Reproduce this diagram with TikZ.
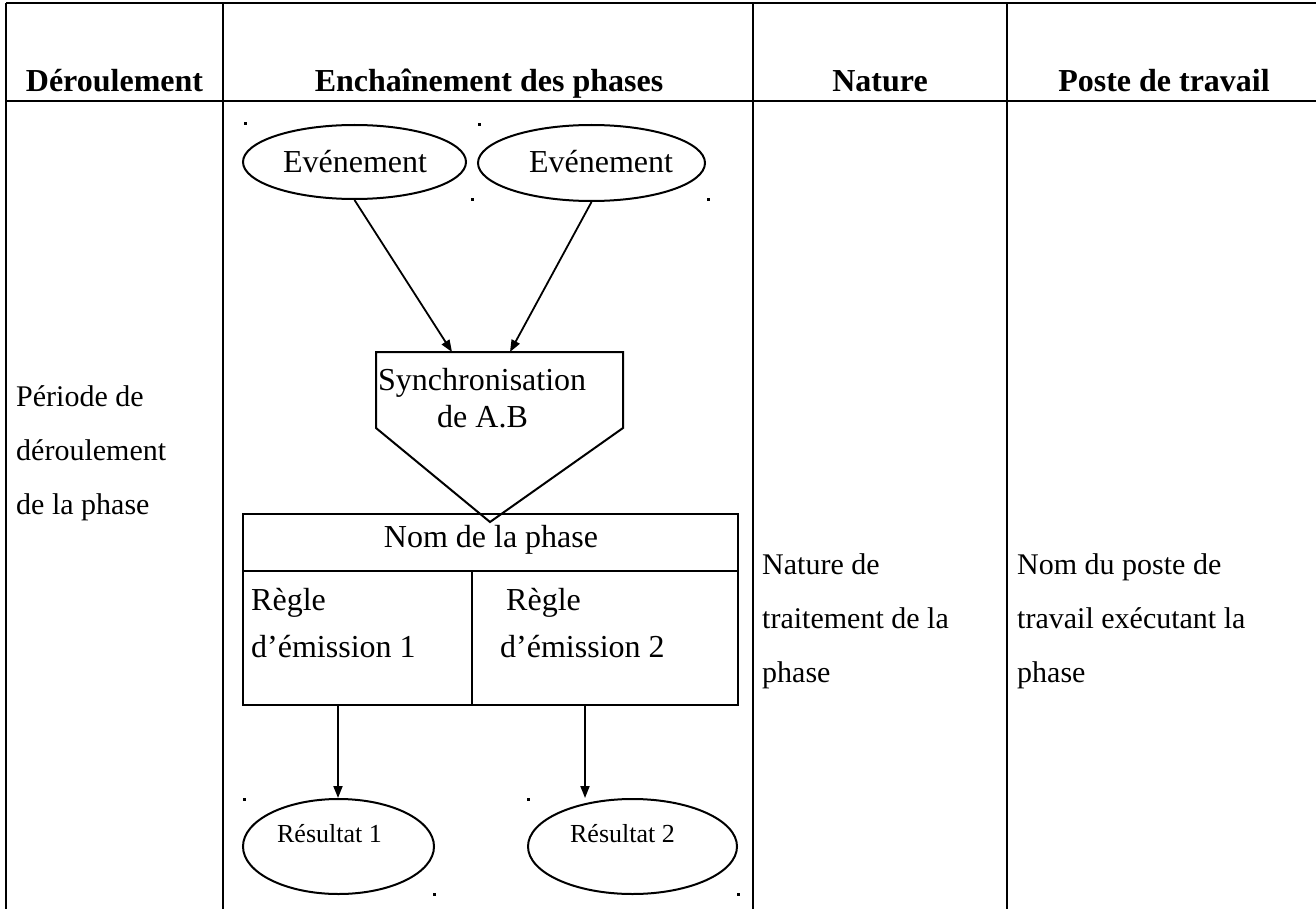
\documentclass[tikz,border=0pt]{standalone}
\usepackage{fontspec}
\setmainfont{Liberation Serif}
\usetikzlibrary{arrows.meta,shapes.geometric}
\begin{document}
\begin{tikzpicture}[x=1pt,y=-1pt,
  rule/.style={line width=2pt},
  thickrule/.style={line width=2.8pt},
  head/.style={anchor=base,inner sep=0pt,font=\fontsize{32}{32}\selectfont\bfseries},
  body/.style={anchor=base west,inner sep=0pt,font=\fontsize{30}{30}\selectfont},
  shape line/.style={line width=2pt},
  oval/.style={shape line,draw,ellipse,inner sep=0pt},
  flow/.style={line width=1.8pt,-{Triangle[length=12pt,width=9pt]}},
  txt/.style={inner sep=0pt,font=\fontsize{32}{32}\selectfont},
  small/.style={inner sep=0pt,font=\fontsize{26}{26}\selectfont},
  tick/.style={fill=black,minimum size=3pt,inner sep=0pt}
]
\useasboundingbox (0,0) rectangle (1316,909);
\fill[white] (0,0) rectangle (1316,909);

% table grid
\draw[thickrule] (6,3) -- (1316,3);
\draw[thickrule] (6,101) -- (1316,101);
\draw[rule] (6,3) -- (6,909);
\draw[rule] (223,3) -- (223,909);
\draw[rule] (753,3) -- (753,909);
\draw[rule] (1007,3) -- (1007,909);

% column headers
\node[head] (h1) at (114.5,92) {Déroulement};
\node[head] (h2) at (489,92) {Enchaînement des phases};
\node[head] (h3) at (880,92) {Nature};
\node[head] (h4) at (1164,92) {Poste de travail};

% side columns
\node[body] (p1) at (16,406) {Période de};
\node[body] (p2) at (16,460) {déroulement};
\node[body] (p3) at (16,514) {de la phase};

\node[body] (n1) at (762,574) {Nature de};
\node[body] (n2) at (762,628) {traitement de la};
\node[body] (n3) at (762,682) {phase};

\node[body] (w1) at (1017,574) {Nom du poste de};
\node[body] (w2) at (1017,628) {travail exécutant la};
\node[body] (w3) at (1017,682) {phase};

% triggering events
\node[oval,minimum width=223pt,minimum height=74pt] (ev1) at (354.5,162) {};
\node[oval,minimum width=227pt,minimum height=76pt] (ev2) at (591.5,163) {};
\node[txt,anchor=base] (ev1t) at (355,173) {Evénement};
\node[txt,anchor=base] (ev2t) at (601,173) {Evénement};

% synchronisation
\draw[shape line] (376,352) -- (623,352) -- (623,428) -- (490,522) -- (376,428) -- cycle;
\coordinate (sa) at (452,352);
\coordinate (sb) at (510,352);
\node[txt,anchor=base west] (sy1) at (378,390) {Synchronisation};
\node[txt,anchor=base west] (sy2) at (437,427) {de A.B};

\draw[flow] (ev1.south) -- (sa);
\draw[flow] (ev2.south) -- (sb);

% phase box
\draw[shape line] (243,514) rectangle (738,705);
\draw[shape line] (243,571) -- (738,571);
\draw[shape line] (472,571) -- (472,705);
\node[txt,anchor=base] (ph) at (491,547) {Nom de la phase};
\node[txt,anchor=base west] (r1a) at (251,610) {Règle};
\node[txt,anchor=base west] (r1b) at (251,657) {d’émission 1};
\node[txt,anchor=base west] (r2a) at (506,610) {Règle};
\node[txt,anchor=base west] (r2b) at (500,657) {d’émission 2};
\coordinate (o1) at (338,705);
\coordinate (o2) at (585,705);

% results
\node[oval,minimum width=191pt,minimum height=95pt] (res1) at (338.5,846.5) {};
\node[oval,minimum width=209pt,minimum height=95pt] (res2) at (632.5,846.5) {};
\node[small,anchor=base] (res1t) at (329.5,842) {Résultat 1};
\node[small,anchor=base] (res2t) at (622.5,842) {Résultat 2};
\coordinate (i1) at (338,798);
\coordinate (i2) at (585,798);

\draw[flow] (o1) -- (i1);
\draw[flow] (o2) -- (i2);

% anchor marks left by the frames
\node[tick] (k1) at (245,124) {};
\node[tick] (k2) at (479,125) {};
\node[tick] (k3) at (472,200) {};
\node[tick] (k4) at (708,200) {};
\node[tick] (k5) at (244,799) {};
\node[tick] (k6) at (434,894) {};
\node[tick] (k7) at (528,799) {};
\node[tick] (k8) at (738,894) {};
\end{tikzpicture}
\end{document}
